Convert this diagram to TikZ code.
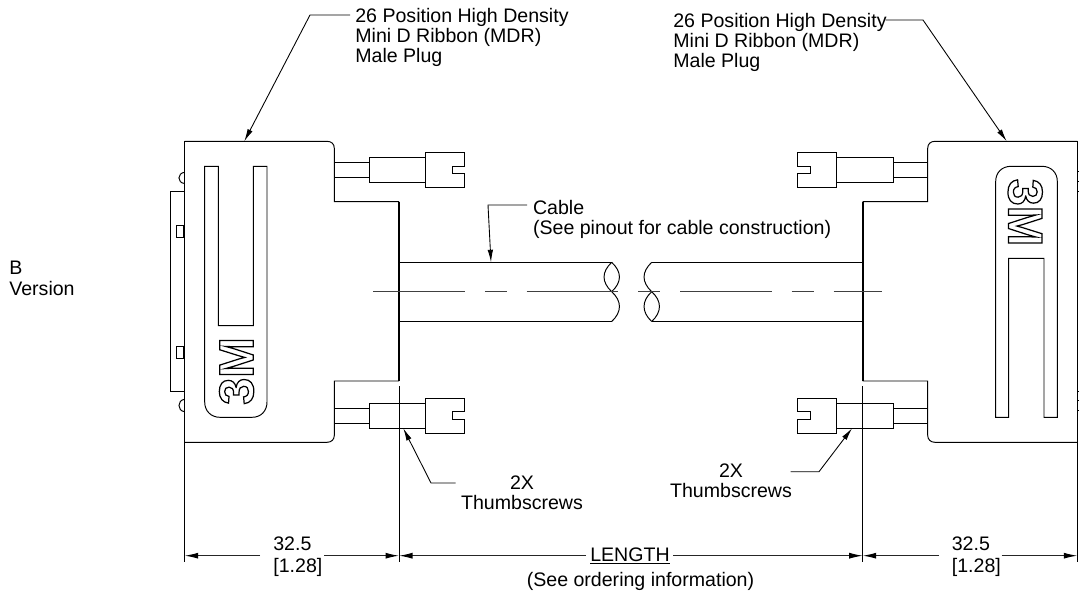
\documentclass[tikz,border=0pt]{standalone}
\usepackage{fontspec}
\setmainfont{Liberation Sans}
\newfontfamily\logofont{Liberation Sans}[BoldFont={Liberation Sans Bold}]
\usetikzlibrary{arrows.meta}
\tikzset{
	part/.style = {draw = black, line width = 0.55pt},
	heavy/.style = {draw = black, line width = 1.2pt},
	axisline/.style = {draw = black!75, line width = 0.6pt, dash pattern = on 52.16pt off 11.34pt on 12.47pt off 11.34pt},
	leader/.style = {draw = black, line width = 0.5pt},
	pointer/.style = {leader, -{Latex[length = 0.25cm, width = 0.11cm]}},
	dimline/.style = {draw = black!85, line width = 0.6pt, -{Latex[length = 0.27cm, width = 0.12cm, black]}},
	lbl/.style = {inner sep = 0pt, align = left, anchor = north west, font = \fontsize{11.14}{11.5}\selectfont},
	logotext/.style = {inner sep = 0pt, anchor = base, text = white, font = \logofont\bfseries\fontsize{27.7}{30}\selectfont}
}
\newcommand{\outlined}[1]{\special{pdf:code q 1 Tr 0.7 w 0 0 0 RG}#1\special{pdf:code Q}}
\begin{document}
\begin{tikzpicture}[x = 0.02cm, y = -0.02cm]
	\useasboundingbox (0,0) rectangle (1079,592);

	% left connector body
	\draw[part] (184.7,141.3) -- (327,141.3) .. controls (331.5,141.3) and (334.3,144) .. (334.3,148.3) -- (334.3,201.7) -- (399,201.7);
	\draw[part] (399,381) -- (334.3,381) -- (334.3,435.3) .. controls (334.3,439.5) and (331.5,442.3) .. (327,442.3) -- (184.7,442.3);
	\draw[heavy] (399,201.7) -- (399,381);
	\draw[part] (184.7,141.3) -- (184.7,442.3);
	\draw[part] (184.7,191.7) -- (170.7,191.7) -- (170.7,391.3) -- (184.7,391.3);
	\draw[part] (176,225) rectangle (183,237);
	\draw[part] (176,346.3) rectangle (183,358);
	\draw[part] (184.7,172.3) .. controls (177,173) and (177,183) .. (184.7,183.5);
	\draw[part] (184.7,399.3) .. controls (177,400) and (177,411) .. (184.7,411.7);
	% left panel
	\draw[part] (218.3,325.7) -- (218.3,166.3) -- (204.7,166.3) -- (204.7,402) .. controls (204.7,411) and (211,417.3) .. (220,417.3) -- (252,417.3) .. controls (261,417.3) and (267,411) .. (267,402) -- (267,166.3) -- (253.3,166.3) -- (253.3,325.7) -- cycle;
	\node[logotext, rotate = 90] (logoL) at (253.3,371) {\outlined{3M}};

	% right connector body
	\draw[part] (1077.3,141.3) -- (935,141.3) .. controls (930.5,141.3) and (927.7,144) .. (927.7,148.3) -- (927.7,201.7) -- (862.7,201.7);
	\draw[part] (862.7,381) -- (927.7,381) -- (927.7,435.3) .. controls (927.7,439.5) and (930.5,442.3) .. (935,442.3) -- (1077.3,442.3);
	\draw[part] (1077.3,141.3) -- (1077.3,442.3);
	\draw[heavy] (862.7,201.7) -- (862.7,381);
	\draw[part] (1077.3,171.7) -- (1079,171.7) (1077.3,181.7) -- (1079,181.7) (1077.3,191.7) -- (1079,191.7);
	\draw[part] (1077.3,391.5) -- (1079,391.5) (1077.3,400) -- (1079,400) (1077.3,410) -- (1079,410);
	% right panel
	\draw[part] (1008.7,258.3) -- (1008.7,417.3) -- (995.7,417.3) -- (995.7,181.3) .. controls (995.7,172.5) and (1002,166.3) .. (1011,166.3) -- (1042,166.3) .. controls (1051,166.3) and (1057.3,172.5) .. (1057.3,181.3) -- (1057.3,417.3) -- (1044,417.3) -- (1044,258.3) -- cycle;
	\node[logotext, rotate = -90] (logoR) at (1008.5,212.5) {\outlined{3M}};

	% thumbscrews, left side
	\draw[part] (334.3,162.3) -- (369.5,162.3) (334.3,177.3) -- (369.5,177.3);
	\draw[part] (369.5,157.7) rectangle (425.7,182.3);
	\draw[part] (425.7,152.3) -- (464.7,152.3) -- (464.7,166.3) -- (452,166.3) -- (452,173.7) -- (464.7,173.7) -- (464.7,187.7) -- (425.7,187.7) -- cycle;
	\draw[part] (334.3,408.7) -- (369.5,408.7) (334.3,423.3) -- (369.5,423.3);
	\draw[part] (369.5,403.3) rectangle (425.7,428.3);
	\draw[part] (425.7,398) -- (464.7,398) -- (464.7,411.3) -- (452,411.3) -- (452,419.3) -- (464.7,419.3) -- (464.7,433.3) -- (425.7,433.3) -- cycle;
	% thumbscrews, right side
	\draw[part] (927.7,162.3) -- (893,162.3) (927.7,177.3) -- (893,177.3);
	\draw[part] (893,157.7) rectangle (836.7,182.3);
	\draw[part] (836.7,152.3) -- (797.7,152.3) -- (797.7,166.3) -- (810.7,166.3) -- (810.7,173.7) -- (797.7,173.7) -- (797.7,187.7) -- (836.7,187.7) -- cycle;
	\draw[part] (927.7,408.7) -- (893,408.7) (927.7,423.3) -- (893,423.3);
	\draw[part] (893,403.3) rectangle (836.7,428.3);
	\draw[part] (836.7,398) -- (797.7,398) -- (797.7,411.3) -- (810.7,411.3) -- (810.7,419.3) -- (797.7,419.3) -- (797.7,433.3) -- (836.7,433.3) -- cycle;

	% cable with break
	\draw[part] (399,262.3) -- (611.7,262.3) (399,321.5) -- (611.7,321.5);
	\draw[part] (651.7,262.3) -- (862.7,262.3) (651.7,321.5) -- (862.7,321.5);
	\draw[part] (611.7,262.3) .. controls (622,272) and (622,282) .. (611.7,291.7);
	\draw[part] (611.7,262.3) .. controls (601.5,272) and (601.5,282) .. (611.7,291.7);
	\draw[part] (611.7,291.7) .. controls (622,301) and (622,312) .. (611.7,321.5);
	\draw[part] (651.7,262.3) .. controls (641.5,272) and (641.5,282) .. (651.7,291.7);
	\draw[part] (651.7,291.7) .. controls (641.5,301) and (641.5,312) .. (651.7,321.5);
	\draw[part] (651.7,291.7) .. controls (662,301) and (662,312) .. (651.7,321.5);
	\draw[axisline] (373.3,291.7) -- (882.3,291.7);

	% labels
	\node[lbl] (plugL) at (355,8) {26 Position High Density\\Mini D Ribbon (MDR)\\Male Plug};
	\node[lbl] (plugR) at (673,13) {26 Position High Density\\Mini D Ribbon (MDR)\\Male Plug};
	\node[lbl] (cable) at (532.7,200) {Cable\\(See pinout for cable construction)};
	\node[lbl] (version) at (9,261) {B\\Version};
	\node[lbl, align = center, anchor = north] (screwL) at (522,475) {2X\\Thumbscrews};
	\node[lbl, align = center, anchor = north] (screwR) at (731,463) {2X\\Thumbscrews};
	\node[lbl] (dimL) at (273,536) {32.5\\[1.2pt]{[1.28]}};
	\node[lbl] (dimR) at (951.5,536) {32.5\\[1.2pt]{[1.28]}};
	\node[lbl, anchor = base] (length) at (630,561) {\underline{LENGTH}};
	\node[lbl, anchor = base] (order) at (640.5,586) {(See ordering information)};

	% leaders
	\coordinate (plugLend) at (350,15);
	\coordinate (plugLbend) at (310,15);
	\coordinate (plugLtip) at (244.3,141.3);
	\coordinate (plugRend) at (885.5,20);
	\coordinate (plugRbend) at (923,20);
	\coordinate (plugRtip) at (1006.7,141.3);
	\coordinate (cableend) at (527,205);
	\coordinate (cablebend) at (488,205);
	\coordinate (cabletip) at (491,262.3);
	\coordinate (screwLend) at (455.7,483);
	\coordinate (screwLbend) at (431,483);
	\coordinate (screwLtip) at (403.3,428.3);
	\coordinate (screwRend) at (790.7,471.7);
	\coordinate (screwRbend) at (819,471.7);
	\coordinate (screwRtip) at (852,428.3);
	\draw[pointer] (plugLend) -- (plugLbend) -- (plugLtip);
	\draw[pointer] (plugRend) -- (plugRbend) -- (plugRtip);
	\draw[pointer] (cableend) -- (cablebend) -- (cabletip);
	\draw[pointer] (screwLend) -- (screwLbend) -- (screwLtip);
	\draw[pointer] (screwRend) -- (screwRbend) -- (screwRtip);

	% extension lines
	\coordinate (extA) at (184.7,562.3);
	\coordinate (extB) at (399,562.3);
	\coordinate (extC) at (862.7,562.3);
	\coordinate (extD) at (1077.3,562.3);
	\draw[part] (184.7,442.3) -- (extA);
	\draw[part] (399,386) -- (extB);
	\draw[part] (862.7,386) -- (extC);
	\draw[part] (1077.3,442.3) -- (extD);

	% dimensions
	\draw[dimline] (260,555.7) -- (184.7,555.7);
	\draw[dimline] (324,555.7) -- (399,555.7);
	\draw[dimline] (586,555.7) -- (399,555.7);
	\draw[dimline] (673,555.7) -- (862.7,555.7);
	\draw[dimline] (939,555.7) -- (862.7,555.7);
	\draw[dimline] (1001.7,555.7) -- (1077.3,555.7);
\end{tikzpicture}
\end{document}
